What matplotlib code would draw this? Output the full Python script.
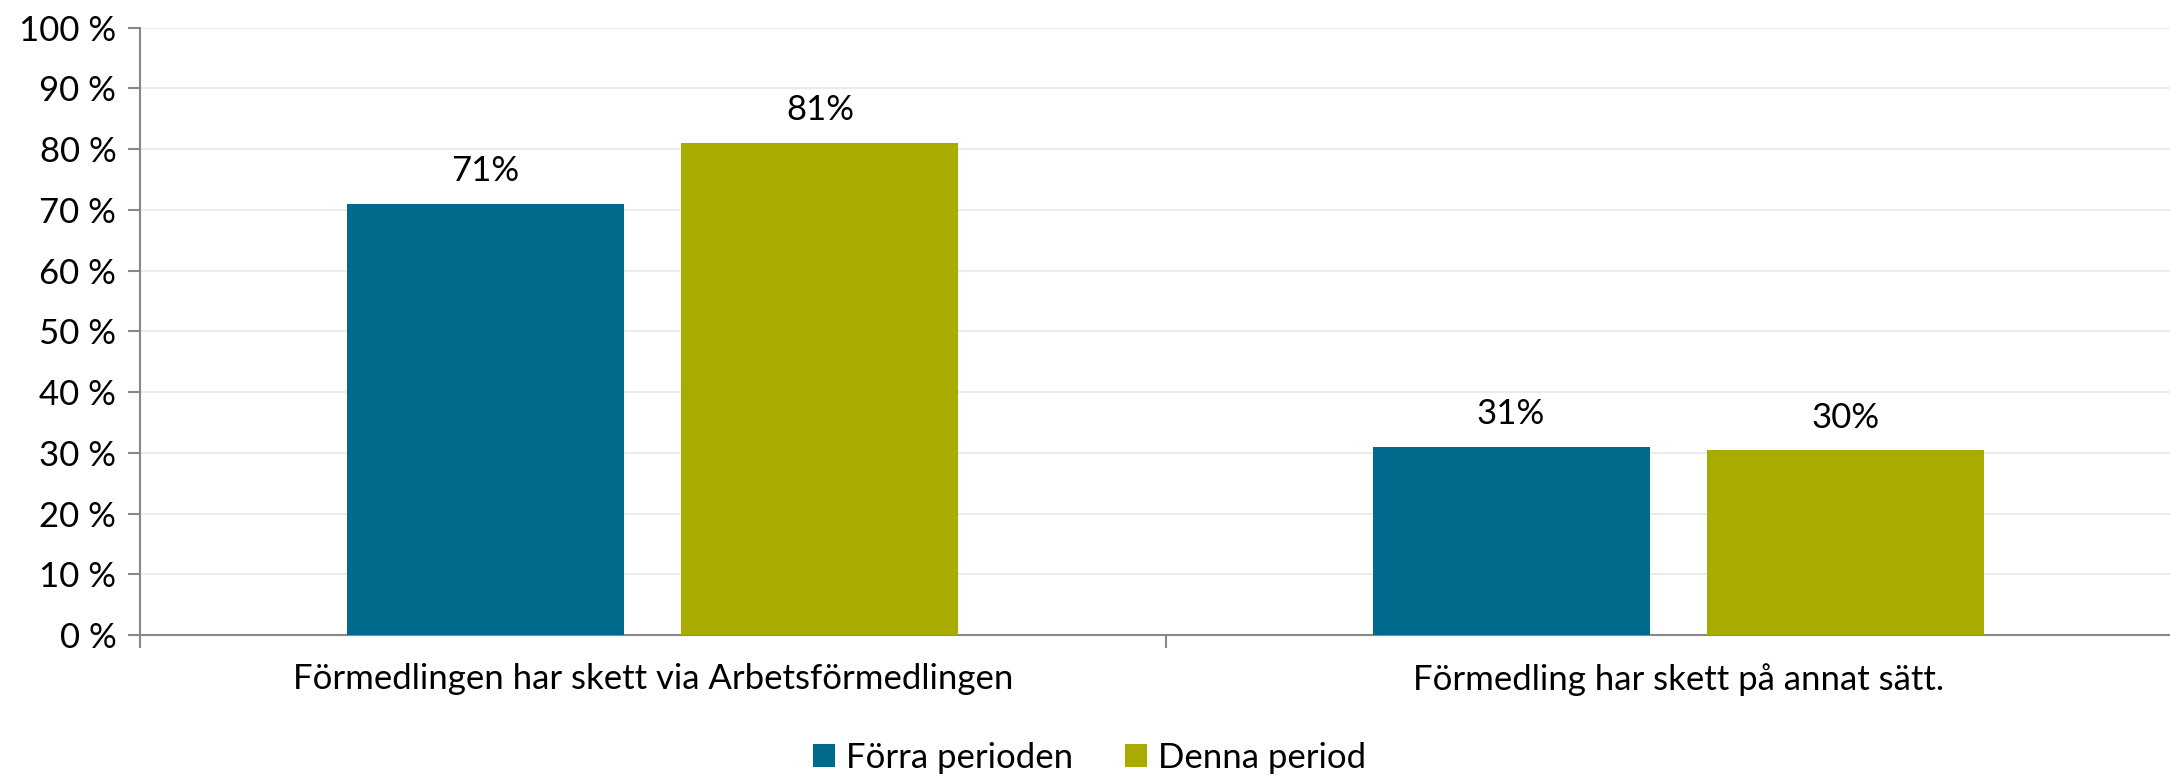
import numpy as np
import matplotlib.pyplot as plt

plt.rcParams['font.family'] = ['Lato', 'DejaVu Sans']

categories = ['Förmedlingen har skett via Arbetsförmedlingen',
              'Förmedling har skett på annat sätt.']
series_names = ['Förra perioden', 'Denna period']
forra = [71, 31]
denna = [81.1, 30.4]
colors = ['#006A8C', '#A9AC00']
yticks = np.arange(0, 101, 10)

fig = plt.figure(figsize=(21.7, 7.77), dpi=100)
ax = fig.add_axes([0.0645, 0.1827, 1.0097 - 0.0645, 0.9643 - 0.1827])

x = np.arange(len(categories))
w = 0.27
off = 0.163
b1 = ax.bar(x - off, forra, w, color=colors[0], label=series_names[0], zorder=3)
b2 = ax.bar(x + off, denna, w, color=colors[1], label=series_names[1], zorder=3)

for bars, vals in ((b1, forra), (b2, denna)):
    for b, v in zip(bars, vals):
        ax.annotate('%d%%' % round(v), (b.get_x() + b.get_width() / 2, v),
                    xytext=(0, 12), textcoords='offset points',
                    ha='center', va='bottom', fontsize=25)

ax.set_ylim(0, 100)
ax.set_xlim(-0.5, 1.5)
ax.set_yticks(yticks)
ax.set_yticklabels(['%d %%' % t for t in yticks], fontsize=25)
ax.yaxis.grid(True, color='#EBEBEB', linewidth=1.5, zorder=0)
ax.tick_params(axis='y', length=9, width=1.5, color='#888888', pad=8)

ax.set_xticks([-0.5, 0.5, 1.5])
ax.set_xticklabels([])
ax.set_xticks(x, minor=True)
ax.set_xticklabels(categories, minor=True, fontsize=25)
ax.tick_params(axis='x', which='major', length=9, width=1.5, color='#888888')
ax.tick_params(axis='x', which='minor', length=0, pad=20)

for s in ['top', 'right']:
    ax.spines[s].set_visible(False)
for s in ['left', 'bottom']:
    ax.spines[s].set_color('#888888')
    ax.spines[s].set_linewidth(1.5)

fig.legend(loc='center', bbox_to_anchor=(0.502, 0.025), ncol=2, frameon=False,
           fontsize=25, handlelength=0.65, handleheight=0.65, handletextpad=0.3,
           columnspacing=1.5)

fig.savefig('out.png', dpi=100)
